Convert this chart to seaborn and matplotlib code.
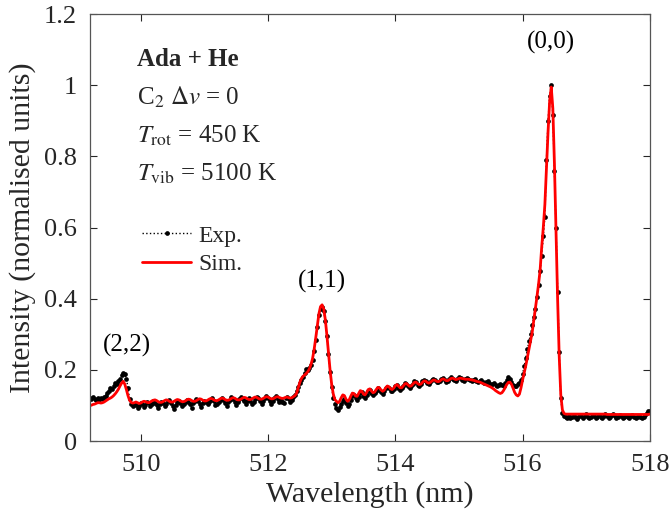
import numpy as np
import seaborn as sns
import matplotlib
matplotlib.use("Agg")
import matplotlib.pyplot as plt
from matplotlib.ticker import FuncFormatter

# Sampling grid (nm): uniform spectrometer step
WL_START = 509.2
WL_STEP = 0.025

# Experimental spectrum (rows of 0.5 nm, 20 samples each)
exp_int = [
    0.120, 0.118, 0.123, 0.119, 0.116, 0.121, 0.117, 0.122, 0.118, 0.124, 0.128, 0.135, 0.142, 0.150, 0.146, 0.155, 0.163, 0.160, 0.168, 0.175,
    0.185, 0.192, 0.188, 0.176, 0.150, 0.118, 0.103, 0.098, 0.105, 0.101, 0.094, 0.099, 0.108, 0.104, 0.097, 0.102, 0.110, 0.106, 0.100, 0.104,
    0.112, 0.108, 0.101, 0.092, 0.104, 0.110, 0.106, 0.099, 0.103, 0.112, 0.115, 0.108, 0.100, 0.091, 0.102, 0.109, 0.113, 0.106, 0.098, 0.104,
    0.111, 0.116, 0.110, 0.103, 0.094, 0.106, 0.113, 0.118, 0.112, 0.105, 0.097, 0.108, 0.114, 0.110, 0.104, 0.109, 0.117, 0.120, 0.113, 0.101,
    0.104, 0.110, 0.116, 0.121, 0.115, 0.108, 0.100, 0.109, 0.117, 0.123, 0.118, 0.110, 0.102, 0.111, 0.118, 0.124, 0.119, 0.112, 0.104, 0.113,
    0.120, 0.114, 0.103, 0.110, 0.118, 0.125, 0.121, 0.113, 0.105, 0.114, 0.122, 0.127, 0.120, 0.112, 0.104, 0.113, 0.121, 0.126, 0.119, 0.110,
    0.117, 0.111, 0.107, 0.121, 0.125, 0.118, 0.109, 0.117, 0.124, 0.130, 0.140, 0.152, 0.163, 0.172, 0.180, 0.192, 0.203, 0.200, 0.205, 0.214,
    0.228, 0.252, 0.285, 0.322, 0.355, 0.372, 0.376, 0.365, 0.338, 0.295, 0.245, 0.195, 0.152, 0.122, 0.103, 0.092, 0.087, 0.095, 0.104, 0.112,
    0.118, 0.108, 0.100, 0.104, 0.116, 0.127, 0.131, 0.122, 0.116, 0.125, 0.136, 0.138, 0.128, 0.122, 0.130, 0.140, 0.143, 0.136, 0.130, 0.134,
    0.141, 0.148, 0.145, 0.137, 0.133, 0.140, 0.149, 0.153, 0.148, 0.141, 0.140, 0.147, 0.155, 0.157, 0.150, 0.145, 0.148, 0.156, 0.162, 0.160,
    0.154, 0.150, 0.154, 0.161, 0.168, 0.165, 0.158, 0.156, 0.161, 0.168, 0.172, 0.170, 0.163, 0.160, 0.166, 0.172, 0.176, 0.172, 0.166, 0.165,
    0.170, 0.176, 0.178, 0.172, 0.167, 0.169, 0.175, 0.179, 0.176, 0.171, 0.170, 0.175, 0.179, 0.177, 0.172, 0.170, 0.174, 0.178, 0.176, 0.171,
    0.168, 0.172, 0.174, 0.170, 0.166, 0.168, 0.171, 0.167, 0.162, 0.165, 0.168, 0.163, 0.158, 0.161, 0.164, 0.158, 0.154, 0.157, 0.160, 0.158,
    0.155, 0.162, 0.172, 0.180, 0.176, 0.166, 0.158, 0.154, 0.156, 0.160, 0.163, 0.172, 0.190, 0.210, 0.235, 0.258, 0.280, 0.302, 0.325, 0.350,
    0.370, 0.405, 0.440, 0.478, 0.520, 0.575, 0.630, 0.790, 0.900, 0.970, 1.000, 0.915, 0.760, 0.600, 0.420, 0.250, 0.120, 0.080, 0.070, 0.068,
    0.066, 0.070, 0.064, 0.068, 0.072, 0.067, 0.063, 0.069, 0.074, 0.070, 0.066, 0.071, 0.075, 0.069, 0.064, 0.068, 0.073, 0.070, 0.066, 0.069,
    0.073, 0.068, 0.064, 0.070, 0.075, 0.071, 0.066, 0.069, 0.074, 0.077, 0.071, 0.066, 0.068, 0.073, 0.070, 0.065, 0.068, 0.072, 0.069, 0.066,
    0.070, 0.074, 0.069, 0.065, 0.068, 0.072, 0.067, 0.064, 0.069, 0.073, 0.078, 0.084, 0.086,
]

# Simulated spectrum, same grid
sim_int = [
    0.100, 0.101, 0.103, 0.104, 0.106, 0.108, 0.108, 0.107, 0.108, 0.110, 0.113, 0.116, 0.119, 0.121, 0.124, 0.128, 0.133, 0.139, 0.146, 0.155,
    0.163, 0.168, 0.160, 0.145, 0.128, 0.115, 0.109, 0.107, 0.108, 0.110, 0.108, 0.106, 0.107, 0.110, 0.112, 0.111, 0.109, 0.108, 0.110, 0.113,
    0.115, 0.116, 0.114, 0.111, 0.109, 0.109, 0.111, 0.114, 0.116, 0.115, 0.112, 0.110, 0.110, 0.112, 0.115, 0.117, 0.116, 0.113, 0.111, 0.111,
    0.113, 0.116, 0.118, 0.117, 0.114, 0.112, 0.112, 0.114, 0.117, 0.119, 0.118, 0.115, 0.113, 0.113, 0.115, 0.118, 0.120, 0.119, 0.116, 0.114,
    0.114, 0.116, 0.119, 0.121, 0.120, 0.117, 0.115, 0.115, 0.117, 0.120, 0.122, 0.121, 0.118, 0.116, 0.116, 0.118, 0.121, 0.123, 0.122, 0.119,
    0.117, 0.117, 0.119, 0.122, 0.124, 0.123, 0.120, 0.118, 0.118, 0.120, 0.123, 0.125, 0.124, 0.121, 0.119, 0.119, 0.121, 0.124, 0.125, 0.123,
    0.121, 0.120, 0.121, 0.123, 0.124, 0.122, 0.121, 0.122, 0.125, 0.128, 0.135, 0.150, 0.165, 0.176, 0.182, 0.186, 0.190, 0.195, 0.203, 0.215,
    0.232, 0.258, 0.290, 0.325, 0.358, 0.378, 0.383, 0.372, 0.342, 0.298, 0.248, 0.200, 0.160, 0.133, 0.117, 0.112, 0.108, 0.112, 0.122, 0.130,
    0.128, 0.118, 0.112, 0.116, 0.126, 0.135, 0.134, 0.127, 0.126, 0.134, 0.142, 0.140, 0.132, 0.130, 0.137, 0.145, 0.147, 0.141, 0.136, 0.138,
    0.145, 0.151, 0.150, 0.144, 0.140, 0.143, 0.150, 0.155, 0.153, 0.147, 0.145, 0.149, 0.156, 0.159, 0.155, 0.150, 0.150, 0.155, 0.161, 0.162,
    0.158, 0.154, 0.155, 0.160, 0.165, 0.166, 0.162, 0.159, 0.160, 0.165, 0.169, 0.169, 0.165, 0.163, 0.165, 0.169, 0.172, 0.171, 0.168, 0.167,
    0.169, 0.173, 0.175, 0.173, 0.170, 0.170, 0.173, 0.176, 0.177, 0.175, 0.173, 0.174, 0.176, 0.177, 0.176, 0.175, 0.174, 0.174, 0.174, 0.173,
    0.172, 0.171, 0.170, 0.168, 0.167, 0.166, 0.164, 0.162, 0.160, 0.158, 0.156, 0.154, 0.152, 0.149, 0.146, 0.142, 0.139, 0.136, 0.134, 0.136,
    0.142, 0.150, 0.159, 0.165, 0.166, 0.160, 0.149, 0.137, 0.130, 0.127, 0.132, 0.150, 0.172, 0.192, 0.212, 0.235, 0.258, 0.280, 0.305, 0.338,
    0.370, 0.405, 0.440, 0.480, 0.545, 0.600, 0.665, 0.770, 0.870, 0.955, 0.995, 0.935, 0.780, 0.590, 0.400, 0.240, 0.130, 0.088, 0.078, 0.076,
    0.076, 0.076, 0.076, 0.076, 0.076, 0.076, 0.076, 0.076, 0.076, 0.076, 0.076, 0.076, 0.076, 0.076, 0.076, 0.076, 0.076, 0.076, 0.076, 0.076,
    0.076, 0.076, 0.076, 0.076, 0.076, 0.075, 0.075, 0.075, 0.075, 0.075, 0.075, 0.075, 0.075, 0.075, 0.075, 0.075, 0.075, 0.075, 0.075, 0.075,
    0.075, 0.075, 0.075, 0.075, 0.075, 0.075, 0.075, 0.075, 0.075, 0.075, 0.075, 0.075, 0.076,
]

peak_labels = ["(2,2)", "(1,1)", "(0,0)"]
peak_pos = [509.78, 512.84, 516.44]
peak_lab_y = [0.27, 0.448, 1.12]

x_ticks = [510, 512, 514, 516, 518]
y_ticks = [0, 0.2, 0.4, 0.6, 0.8, 1.0, 1.2]

assert len(exp_int) == len(sim_int)
wavelength = WL_START + WL_STEP * np.arange(len(exp_int))

sns.set_theme(style="ticks")
plt.rcParams["font.family"] = ["Liberation Serif", "DejaVu Serif"]
plt.rcParams["mathtext.fontset"] = "stix"

fig = plt.figure(figsize=(6.7, 5.19), dpi=100)
ax = fig.add_axes([0.134, 0.150, 0.836, 0.823])

sns.lineplot(x=wavelength, y=exp_int, ax=ax, color="black", linestyle=":",
             linewidth=1.0, marker="o", markersize=3.4, markeredgewidth=0,
             label="Exp.")
sns.lineplot(x=wavelength, y=sim_int, ax=ax, color="#ff0000", linewidth=2.0,
             label="Sim.")

ax.set_xlim(509.2, 518)
ax.set_ylim(0, 1.2)
ax.set_xticks(x_ticks)
ax.set_yticks(y_ticks)
ax.yaxis.set_major_formatter(FuncFormatter(lambda v, p: f"{v:g}"))
ax.tick_params(direction="in", length=5, width=0.8, top=True, right=True,
               labelsize=19, colors="#262626", pad=9)
for s in ax.spines.values():
    s.set_visible(True)
    s.set_color("#555555")
    s.set_linewidth(0.9)

ax.set_xlabel("Wavelength (nm)", fontsize=21.5, color="#262626", labelpad=4)
ax.set_ylabel("Intensity (normalised units)", fontsize=21.5, color="#262626", labelpad=6)

for lab, xp, yp in zip(peak_labels, peak_pos, peak_lab_y):
    ax.text(xp, yp, lab, fontsize=18, ha="center", va="center", color="black")

ax.text(509.94, 1.073, "Ada + He", fontsize=18, fontweight="bold", va="center")
ax.text(509.94, 0.965, r"C$_2$ $\Delta v$ = 0", fontsize=18, va="center")
ax.text(509.94, 0.858, r"$T_{\rm rot}$ = 450 K", fontsize=18, va="center")
ax.text(509.94, 0.752, r"$T_{\rm vib}$ = 5100 K", fontsize=18, va="center")

leg = ax.legend(loc="center left", bbox_to_anchor=(0.093, 0.447), frameon=False,
                fontsize=17, handlelength=2.1, handletextpad=0.3,
                labelspacing=0.3, borderpad=0, borderaxespad=0)

fig.savefig("out.png", dpi=100)
